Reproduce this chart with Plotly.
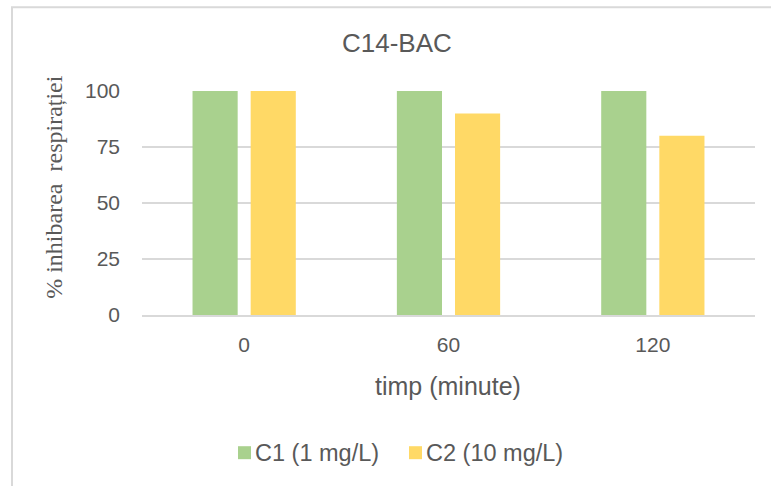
import plotly.graph_objects as go

# Data
categories = ["0", "60", "120"]
series_names = ["C1 (1 mg/L)", "C2 (10 mg/L)"]
c1_values = [100, 100, 100]
c2_values = [100, 90, 80]
series_values = [c1_values, c2_values]
series_colors = ["#A9D18E", "#FFD966"]
y_ticks = [0, 25, 50, 75, 100]

W, H = 771, 486
# plot area in pixels
PX0, PX1, PY_TOP, PY_BOT = 142, 755, 91, 315.5

TEXT = "#595959"
GRID = "#D9D9D9"
SANS = "Arial, 'Liberation Sans', sans-serif"
SERIF = "'Times New Roman', 'Liberation Serif', serif"


def px(x):
    return (x - PX0) / (PX1 - PX0)


def py(y):
    return (PY_BOT - y) / (PY_BOT - PY_TOP)


fig = go.Figure()
for name, vals, col in zip(series_names, series_values, series_colors):
    fig.add_trace(go.Bar(x=categories, y=vals, name=name, marker_color=col,
                         marker_line_width=0, showlegend=False))

fig.update_layout(
    width=W, height=H,
    margin=dict(l=PX0, r=W - PX1, t=PY_TOP, b=H - PY_BOT),
    paper_bgcolor="white", plot_bgcolor="white",
    barmode="group", bargap=0.431, bargroupgap=0.2236,
    font=dict(family=SANS, color=TEXT),
)
fig.update_xaxes(type="category", showgrid=False, showline=True,
                 linecolor=GRID, linewidth=2, ticks="",
                 tickfont=dict(size=21, color=TEXT), ticklabelstandoff=10)
fig.update_yaxes(range=[0, 100], tickvals=y_ticks, showgrid=True,
                 gridcolor=GRID, gridwidth=2, zeroline=False, showline=False,
                 ticks="", tickfont=dict(size=21, color=TEXT),
                 ticklabelstandoff=21)

annotations = [
    dict(text="C14-BAC", x=px(397), y=py(43), font=dict(size=26, color=TEXT)),
    dict(text="timp (minute)", x=px(448), y=py(387), font=dict(size=25, color=TEXT)),
    dict(text="% inhibarea  respirației", x=px(54), y=py(187), textangle=-90,
         font=dict(size=24, color=TEXT, family=SERIF)),
]
for a in annotations:
    a.update(xref="paper", yref="paper", showarrow=False,
             xanchor="center", yanchor="middle")
    fig.add_annotation(**a)

# legend row
legend_sq = [238, 409]
for name, col, x0 in zip(series_names, series_colors, legend_sq):
    fig.add_shape(type="rect", xref="paper", yref="paper",
                  x0=px(x0), x1=px(x0 + 13), y0=py(460), y1=py(447),
                  fillcolor=col, line_width=0)
    fig.add_annotation(text=name, xref="paper", yref="paper", x=px(x0 + 15),
                       y=py(454), xanchor="left", yanchor="middle",
                       showarrow=False, font=dict(size=23.5, color=TEXT))

# chart frame
fig.add_shape(type="rect", xref="paper", yref="paper",
              x0=px(12), x1=px(790), y0=py(500), y1=py(7),
              line=dict(color=GRID, width=2), fillcolor="rgba(0,0,0,0)",
              layer="below")

fig.write_html("out.html")
